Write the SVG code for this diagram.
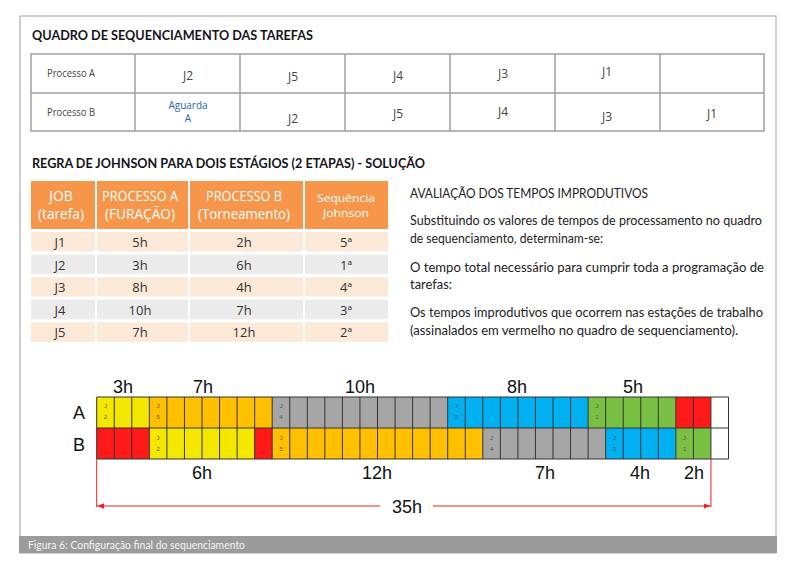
<svg xmlns="http://www.w3.org/2000/svg" width="802" height="571" viewBox="0 0 802 571">
<style>
.title{font-family:Lato,"Open Sans","Liberation Sans",sans-serif;font-weight:bold;font-size:13px;fill:#141420}
.cell{font-family:"Open Sans","Liberation Sans",sans-serif;font-size:12px;fill:#444;text-anchor:middle}
.proc{font-family:"Open Sans","Liberation Sans",sans-serif;font-size:10px;fill:#444}
.agu{font-family:"Open Sans","Liberation Sans",sans-serif;font-size:10px;fill:#2b5fb4;text-anchor:middle}
.hd{font-family:"Open Sans","Liberation Sans",sans-serif;font-size:14px;fill:#fff;text-anchor:middle}
.hds{font-family:"Open Sans","Liberation Sans",sans-serif;font-size:11.5px;fill:#fff;text-anchor:middle}
.bd{font-family:"Open Sans","Liberation Sans",sans-serif;font-size:13px;fill:#333;text-anchor:middle}
.txt{font-family:Lato,"Open Sans","Liberation Sans",sans-serif;font-size:13.5px;fill:#222}
.gl{font-family:"Liberation Sans",Arial,sans-serif;font-size:18px;fill:#111;text-anchor:middle}
.jl{font-family:"Liberation Sans",Arial,sans-serif;font-size:6px;fill:#555;text-anchor:middle}
.grid{fill:none;stroke:#a0a0a0;stroke-width:1.5}
.gg{fill:none;stroke:#333;stroke-width:1}
.dim{fill:none;stroke:#f02020;stroke-width:1}
.pe{fill:#fde9d8}
.gr{fill:#ebebeb}
.or{fill:#f7964a}
</style>
<defs>
<marker id="arr" viewBox="0 0 10 10" refX="10" refY="5" markerWidth="7" markerHeight="7" markerUnits="userSpaceOnUse" orient="auto-start-reverse">
<path d="M0,1 L10,5 L0,9 Z" fill="#f02020"/>
</marker>
</defs>
<rect width="802" height="571" fill="#fff"/>
<g id="frame">
<rect x="20" y="16" width="756" height="537" fill="none" stroke="#a0a0a0" stroke-width="1"/>
<rect x="19" y="536" width="758" height="17" fill="#9b9b9b"/>
<text x="28" y="549" font-family="Lato, Open Sans, Liberation Sans, sans-serif" font-size="10.5" fill="#f4f4f4" textLength="217" lengthAdjust="spacingAndGlyphs">Figura 6: Configuração final do sequenciamento</text>
</g>
<g id="quadro">
<text class="title" x="32" y="40" textLength="281" lengthAdjust="spacingAndGlyphs">QUADRO DE SEQUENCIAMENTO DAS TAREFAS</text>
<rect class="grid" x="31" y="54" width="733" height="77"/>
<path class="grid" d="M31 93H764M135 54V131M240 54V131M345 54V131M450 54V131M555 54V131M660 54V131"/>
<text class="proc" x="47" y="77" textLength="48" lengthAdjust="spacingAndGlyphs">Processo A</text>
<text class="cell" x="188" y="80">J2</text>
<text class="cell" x="293" y="81">J5</text>
<text class="cell" x="398" y="80">J4</text>
<text class="cell" x="503" y="78">J3</text>
<text class="cell" x="607" y="76">J1</text>
<text class="proc" x="47" y="116" textLength="48" lengthAdjust="spacingAndGlyphs">Processo B</text>
<text class="agu" x="188" y="109">Aguarda</text>
<text class="agu" x="188" y="122">A</text>
<text class="cell" x="293" y="123">J2</text>
<text class="cell" x="398" y="118">J5</text>
<text class="cell" x="503" y="116">J4</text>
<text class="cell" x="607" y="121">J3</text>
<text class="cell" x="712" y="118">J1</text>
</g>
<g id="johnson">
<text class="title" x="32" y="168" textLength="393" lengthAdjust="spacingAndGlyphs">REGRA DE JOHNSON PARA DOIS ESTÁGIOS (2 ETAPAS) - SOLUÇÃO</text>
<rect class="or" x="31" y="181" width="64" height="48"/>
<rect class="or" x="97" y="181" width="91" height="48"/>
<rect class="or" x="190" y="181" width="113" height="48"/>
<rect class="or" x="305" y="181" width="83" height="48"/>
<text class="hd" x="61" y="201">JOB</text>
<text class="hd" x="61" y="219" textLength="46" lengthAdjust="spacingAndGlyphs">(tarefa)</text>
<text class="hd" x="140" y="201" textLength="76" lengthAdjust="spacingAndGlyphs">PROCESSO A</text>
<text class="hd" x="140" y="219" textLength="70" lengthAdjust="spacingAndGlyphs">(FURAÇÃO)</text>
<text class="hd" x="244" y="201" textLength="76" lengthAdjust="spacingAndGlyphs">PROCESSO B</text>
<text class="hd" x="244" y="219" textLength="92" lengthAdjust="spacingAndGlyphs">(Torneamento)</text>
<text class="hds" x="346" y="202" textLength="58" lengthAdjust="spacingAndGlyphs">Sequência</text>
<text class="hds" x="346" y="217" textLength="46" lengthAdjust="spacingAndGlyphs">Johnson</text>
<g>
<rect class="pe" x="31" y="232" width="64" height="19.5"/><rect class="pe" x="97" y="232" width="91" height="19.5"/><rect class="pe" x="190" y="232" width="113" height="19.5"/><rect class="pe" x="305" y="232" width="83" height="19.5"/>
<rect class="gr" x="31" y="254.6" width="64" height="19.5"/><rect class="gr" x="97" y="254.6" width="91" height="19.5"/><rect class="gr" x="190" y="254.6" width="113" height="19.5"/><rect class="gr" x="305" y="254.6" width="83" height="19.5"/>
<rect class="pe" x="31" y="277.2" width="64" height="19.5"/><rect class="pe" x="97" y="277.2" width="91" height="19.5"/><rect class="pe" x="190" y="277.2" width="113" height="19.5"/><rect class="pe" x="305" y="277.2" width="83" height="19.5"/>
<rect class="gr" x="31" y="299.8" width="64" height="19.5"/><rect class="gr" x="97" y="299.8" width="91" height="19.5"/><rect class="gr" x="190" y="299.8" width="113" height="19.5"/><rect class="gr" x="305" y="299.8" width="83" height="19.5"/>
<rect class="pe" x="31" y="322.4" width="64" height="19.5"/><rect class="pe" x="97" y="322.4" width="91" height="19.5"/><rect class="pe" x="190" y="322.4" width="113" height="19.5"/><rect class="pe" x="305" y="322.4" width="83" height="19.5"/>
</g>
<text class="bd" x="60" y="247">J1</text><text class="bd" x="140" y="247">5h</text><text class="bd" x="244" y="247">2h</text><text class="bd" x="346" y="247">5ª</text>
<text class="bd" x="60" y="270">J2</text><text class="bd" x="140" y="270">3h</text><text class="bd" x="244" y="270">6h</text><text class="bd" x="346" y="270">1ª</text>
<text class="bd" x="60" y="292">J3</text><text class="bd" x="140" y="292">8h</text><text class="bd" x="244" y="292">4h</text><text class="bd" x="346" y="292">4ª</text>
<text class="bd" x="60" y="315">J4</text><text class="bd" x="140" y="315">10h</text><text class="bd" x="244" y="315">7h</text><text class="bd" x="346" y="315">3ª</text>
<text class="bd" x="60" y="337">J5</text><text class="bd" x="140" y="337">7h</text><text class="bd" x="244" y="337">12h</text><text class="bd" x="346" y="337">2ª</text>
</g>
<g id="avaliacao">
<text class="txt" x="410" y="198" font-size="11.5" textLength="238" lengthAdjust="spacingAndGlyphs">AVALIAÇÃO DOS TEMPOS IMPRODUTIVOS</text>
<text class="txt" x="410" y="225" textLength="352" lengthAdjust="spacingAndGlyphs">Substituindo os valores de tempos de processamento no quadro</text>
<text class="txt" x="410" y="243" textLength="193" lengthAdjust="spacingAndGlyphs">de sequenciamento, determinam-se:</text>
<text class="txt" x="410" y="272" textLength="354" lengthAdjust="spacingAndGlyphs">O tempo total necessário para cumprir toda a programação de</text>
<text class="txt" x="410" y="289" textLength="42" lengthAdjust="spacingAndGlyphs">tarefas:</text>
<text class="txt" x="410" y="317" textLength="353" lengthAdjust="spacingAndGlyphs">Os tempos improdutivos que ocorrem nas estações de trabalho</text>
<text class="txt" x="410" y="335" textLength="328" lengthAdjust="spacingAndGlyphs">(assinalados em vermelho no quadro de sequenciamento).</text>
</g>
<g id="gantt-labels">
<text class="gl" x="123" y="393">3h</text>
<text class="gl" x="203" y="393">7h</text>
<text class="gl" x="360" y="393">10h</text>
<text class="gl" x="517" y="393">8h</text>
<text class="gl" x="633" y="393">5h</text>
<text class="gl" x="79" y="419">A</text>
<text class="gl" x="79" y="451">B</text>
<text class="gl" x="202" y="479">6h</text>
<text class="gl" x="377" y="479">12h</text>
<text class="gl" x="545" y="479">7h</text>
<text class="gl" x="640" y="479">4h</text>
<text class="gl" x="694" y="479">2h</text>
</g>
<g id="gantt-row-a">
<rect x="96.7" y="397" width="52.65" height="31" fill="#f5e800"/>
<rect x="149.35" y="397" width="122.85" height="31" fill="#ffc000"/>
<rect x="272.2" y="397" width="175.5" height="31" fill="#a6a6a6"/>
<rect x="447.7" y="397" width="140.4" height="31" fill="#00b0f0"/>
<rect x="588.1" y="397" width="87.75" height="31" fill="#7ac143"/>
<rect x="675.85" y="397" width="35.1" height="31" fill="#ff1a1a"/>
<rect x="710.95" y="397" width="17.55" height="31" fill="#fff"/>
<text class="jl" x="105.5" y="408">J</text><text class="jl" x="105.5" y="419">2</text>
<text class="jl" x="158.1" y="408">J</text><text class="jl" x="158.1" y="419">5</text>
<text class="jl" x="281" y="408">J</text><text class="jl" x="281" y="419">4</text>
<text class="jl" x="456.5" y="408" fill="#124a7a">J</text><text class="jl" x="456.5" y="419" fill="#124a7a">3</text>
<text class="jl" x="596.9" y="408">J</text><text class="jl" x="596.9" y="419">1</text>
</g>
<g id="gantt-row-b">
<rect x="96.7" y="428" width="52.65" height="31" fill="#ff1a1a"/>
<rect x="149.35" y="428" width="105.3" height="31" fill="#f5e800"/>
<rect x="254.65" y="428" width="17.55" height="31" fill="#ff1a1a"/>
<rect x="272.2" y="428" width="210.6" height="31" fill="#ffc000"/>
<rect x="482.8" y="428" width="122.85" height="31" fill="#a6a6a6"/>
<rect x="605.65" y="428" width="70.2" height="31" fill="#00b0f0"/>
<rect x="675.85" y="428" width="35.1" height="31" fill="#7ac143"/>
<rect x="710.95" y="428" width="17.55" height="31" fill="#fff"/>
<text class="jl" x="158.1" y="440">J</text><text class="jl" x="158.1" y="451">2</text>
<text class="jl" x="281" y="440">J</text><text class="jl" x="281" y="451">5</text>
<text class="jl" x="491.6" y="440">J</text><text class="jl" x="491.6" y="451">4</text>
<text class="jl" x="614.4" y="440" fill="#124a7a">J</text><text class="jl" x="614.4" y="451" fill="#124a7a">3</text>
<text class="jl" x="684.6" y="440">J</text><text class="jl" x="684.6" y="451">1</text>
</g>
<g id="gantt-grid">
<path class="gg" d="M96.7 397H728.5M96.7 428H728.5M96.7 459H728.5
M96.7 397V459M114.25 397V459M131.8 397V459M149.35 397V459M166.9 397V459M184.45 397V459M202 397V459M219.55 397V459M237.1 397V459M254.65 397V459
M272.2 397V459M289.75 397V459M307.3 397V459M324.85 397V459M342.4 397V459M359.95 397V459M377.5 397V459M395.05 397V459M412.6 397V459M430.15 397V459
M447.7 397V459M465.25 397V459M482.8 397V459M500.35 397V459M517.9 397V459M535.45 397V459M553 397V459M570.55 397V459M588.1 397V459M605.65 397V459
M623.2 397V459M640.75 397V459M658.3 397V459M675.85 397V459M693.4 397V459M710.95 397V459M728.5 397V459"/>
</g>
<g id="connectors">
<path class="dim" d="M96.7 459V507M710.95 459V507"/>
<path class="dim" d="M380 506H97.2" marker-end="url(#arr)"/>
<path class="dim" d="M433 506H710.5" marker-end="url(#arr)"/>
<text class="gl" x="407" y="513" font-size="20">35h</text>
</g>
</svg>
